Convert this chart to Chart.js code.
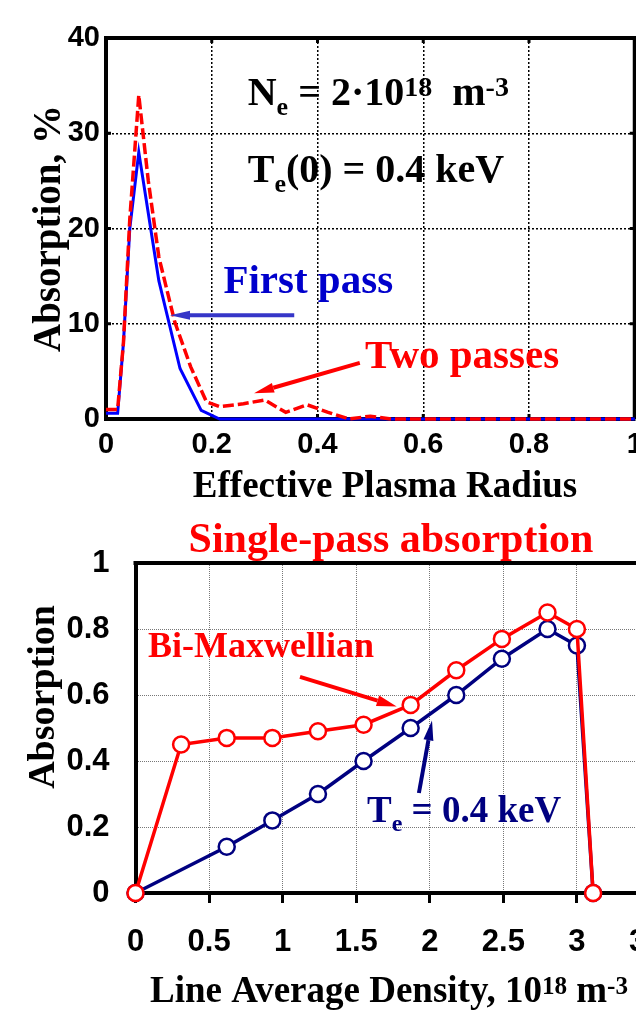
<!DOCTYPE html>
<html>
<head>
<meta charset="utf-8">
<script src="https://cdn.jsdelivr.net/npm/chart.js@4.4.1/dist/chart.umd.min.js"></script>
<style>
html, body { margin: 0; padding: 0; background: #fff; overflow: hidden; width: 636px; height: 1020px; }
canvas { position: absolute; left: 0; top: 0; }
</style>
</head>
<body>
<canvas id="radiusChart" width="660" height="510"></canvas>
<canvas id="densityChart" width="701" height="1020"></canvas>
<script>
// ---- top panel: absorption profile vs effective radius ----
const firstPassRadius = [0, 0.022, 0.033, 0.045, 0.062, 0.1, 0.14, 0.18, 0.215, 0.3, 0.4, 0.5, 0.6, 0.7, 0.8, 0.9, 1.0];
const firstPassAbs    = [0.6, 0.6, 8, 20, 28, 14.5, 5.3, 0.9, 0, 0, 0, 0, 0, 0, 0, 0, 0];

const twoPassRadius = [0, 0.022, 0.033, 0.045, 0.062, 0.08, 0.1, 0.13, 0.16, 0.19, 0.215, 0.26, 0.3, 0.34, 0.38, 0.42, 0.46, 0.5, 0.54, 0.6, 0.7, 0.8, 0.9, 1.0];
const twoPassAbs    = [1.0, 1.0, 8, 21, 34, 25, 17, 10.2, 5.5, 1.8, 1.3, 1.6, 2.0, 0.7, 1.5, 0.7, 0, 0.3, 0, 0, 0, 0, 0, 0];

const radiusTicks = [0, 0.2, 0.4, 0.6, 0.8, 1];
const percentTicks = [0, 10, 20, 30, 40];

// ---- bottom panel: single-pass absorption vs line average density ----
const biMaxDensity = [0, 0.31, 0.62, 0.93, 1.24, 1.55, 1.87, 2.18, 2.49, 2.8, 3.0, 3.11];
const biMaxAbs     = [0, 0.45, 0.47, 0.47, 0.49, 0.51, 0.57, 0.675, 0.77, 0.85, 0.80, 0];

const te04Density = [0, 0.62, 0.93, 1.24, 1.55, 1.87, 2.18, 2.49, 2.8, 3.0, 3.11];
const te04Abs     = [0, 0.14, 0.22, 0.30, 0.40, 0.50, 0.60, 0.71, 0.80, 0.75, 0];

const densityTicks = [0, 0.5, 1, 1.5, 2, 2.5, 3, 3.5];
const fractionTicks = [0, 0.2, 0.4, 0.6, 0.8, 1];

const SERIF = '"Liberation Serif", "Times New Roman", serif';
const SANS = 'Liberation Sans';

function pairs(xs, ys) {
	return xs.map((x, i) => ({ x: x, y: ys[i] }));
}

// text with sub/superscripts, parts = [[text, 'sub'|'sup'|undefined], ...]
function richText(ctx, parts, x, y, size, color, align, supScale) {
	const sup = supScale || 0.62;
	let total = 0;
	const fontOf = p => 'bold ' + (p[1] === 'sub' ? size * 0.65 : p[1] === 'sup' ? size * sup : size) + 'px ' + SERIF;
	parts.forEach(p => { ctx.font = fontOf(p); total += ctx.measureText(p[0]).width; });
	let cx = align === 'center' ? x - total / 2 : x;
	ctx.save();
	ctx.fillStyle = color;
	ctx.textAlign = 'left';
	ctx.textBaseline = 'alphabetic';
	parts.forEach(p => {
		ctx.font = fontOf(p);
		const dy = p[1] === 'sub' ? size * 0.25 : p[1] === 'sup' ? -size * 0.22 : 0;
		ctx.fillText(p[0], cx, y + dy);
		cx += ctx.measureText(p[0]).width;
	});
	ctx.restore();
}

function arrow(ctx, x1, y1, x2, y2, color, width, headLen, headHalf) {
	const ang = Math.atan2(y2 - y1, x2 - x1);
	const bx = x2 - headLen * Math.cos(ang);
	const by = y2 - headLen * Math.sin(ang);
	ctx.save();
	ctx.strokeStyle = color;
	ctx.fillStyle = color;
	ctx.lineWidth = width;
	ctx.beginPath();
	ctx.moveTo(x1, y1);
	ctx.lineTo(bx, by);
	ctx.stroke();
	ctx.beginPath();
	ctx.moveTo(x2, y2);
	ctx.lineTo(bx + headHalf * Math.sin(ang), by - headHalf * Math.cos(ang));
	ctx.lineTo(bx - headHalf * Math.sin(ang), by + headHalf * Math.cos(ang));
	ctx.closePath();
	ctx.fill();
	ctx.restore();
}

/* =========================================
TOP CHART
============================================*/
const radiusFrame = {
	id: 'radiusFrame',
	beforeDatasetsDraw(chart) {
		const { ctx, chartArea: a, scales: { x, y } } = chart;
		ctx.save();
		ctx.strokeStyle = '#000';
		ctx.lineWidth = 4;
		ctx.beginPath();
		ctx.moveTo(a.left - 2, a.top);
		ctx.lineTo(a.right, a.top);
		ctx.lineTo(a.right, a.bottom);
		ctx.stroke();
		// small inward tick marks
		ctx.lineWidth = 3;
		ctx.beginPath();
		x.ticks.forEach(t => {
			const px = x.getPixelForValue(t.value);
			ctx.moveTo(px, a.top); ctx.lineTo(px, a.top + 5);
			ctx.moveTo(px, a.bottom); ctx.lineTo(px, a.bottom - 5);
		});
		y.ticks.forEach(t => {
			const py = y.getPixelForValue(t.value);
			ctx.moveTo(a.left, py); ctx.lineTo(a.left + 5, py);
			ctx.moveTo(a.right, py); ctx.lineTo(a.right - 5, py);
		});
		ctx.stroke();
		ctx.restore();
	},
	afterDraw(chart) {
		const { ctx, scales: { x, y } } = chart;
		const X = v => x.getPixelForValue(v);
		const Y = v => y.getPixelForValue(v);
		richText(ctx, [['Effective Plasma Radius']], 385, 497, 37, '#000', 'center');
		richText(ctx, [['N'], ['e', 'sub'], [' = 2\u00b710'], ['18', 'sup'], [' \u2005m'], ['-3', 'sup']], X(0.268), Y(33.0), 40, '#000', 'left', 0.7);
		richText(ctx, [['T'], ['e', 'sub'], ['(0) = 0.4 keV']], X(0.268), Y(24.9), 40, '#000');
		richText(ctx, [['First pass']], X(0.222), Y(13.2), 41, '#0000cc');
		richText(ctx, [['Two passes']], X(0.49), Y(5.35), 41, '#ff0000');
		arrow(ctx, X(0.356), Y(10.9), X(0.121), Y(10.9), '#3636c8', 4, 20, 4.5);
		arrow(ctx, X(0.48), Y(5.9), X(0.28), Y(2.7), '#ff0000', 4, 20, 5);
	}
};

new Chart(document.getElementById('radiusChart'), {
	type: 'line',
	data: {
		datasets: [
			{ label: 'Two passes', data: pairs(twoPassRadius, twoPassAbs), borderColor: '#ff0000', borderWidth: 3.5, borderDash: [11, 4], pointRadius: 0, tension: 0, fill: false, order: 0, clip: false },
			{ label: 'First pass', data: pairs(firstPassRadius, firstPassAbs), borderColor: '#0000ff', borderWidth: 3, pointRadius: 0, tension: 0, fill: false, order: 1, clip: false }
		]
	},
	options: {
		responsive: false,
		animation: false,
		events: [],
		layout: { padding: { top: 38, right: 25.25, left: 0, bottom: 0 } },
		plugins: { legend: { display: false }, tooltip: { enabled: false } },
		scales: {
			x: {
				type: 'linear', min: 0, max: 1,
				afterBuildTicks: s => { s.ticks = radiusTicks.map(v => ({ value: v })); },
				afterFit: s => { s.height = 91; },
				grid: { color: '#000', lineWidth: 1.5, drawTicks: false },
				border: { color: '#000', width: 4, dash: [2, 2] },
				ticks: { color: '#000', padding: 9, maxRotation: 0, autoSkip: false, font: { family: SANS, weight: 'bold', size: 29 }, callback: v => String(v) }
			},
			y: {
				min: 0, max: 40,
				afterBuildTicks: s => { s.ticks = percentTicks.map(v => ({ value: v })); },
				afterFit: s => { s.width = 106; },
				grid: { color: '#000', lineWidth: 1.5, drawTicks: false },
				border: { color: '#000', width: 4, dash: [2, 2] },
				ticks: { color: '#000', padding: 6, font: { family: SANS, weight: 'bold', size: 29 }, callback: v => String(v) },
				title: { display: true, text: 'Absorption, %', color: '#000', font: { family: 'Liberation Serif', weight: 'bold', size: 39 }, padding: { top: 27, bottom: 0 } }
			}
		}
	},
	plugins: [radiusFrame]
});

/* =========================================
BOTTOM CHART
============================================*/
const densityDecor = {
	id: 'densityDecor',
	beforeDatasetsDraw(chart) {
		const { ctx, chartArea: a } = chart;
		ctx.save();
		ctx.strokeStyle = '#000';
		ctx.lineWidth = 4;
		ctx.beginPath();
		ctx.moveTo(a.left - 2, a.top);
		ctx.lineTo(a.right, a.top);
		ctx.lineTo(a.right, a.bottom);
		ctx.stroke();
		ctx.restore();
	},
	afterDraw(chart) {
		const { ctx, scales: { x, y } } = chart;
		const X = v => x.getPixelForValue(v);
		const Y = v => y.getPixelForValue(v);
		richText(ctx, [['Single-pass absorption']], 391, 552, 42, '#ff0000', 'center');
		richText(ctx, [['Line Average Density, 10'], ['18', 'sup'], [' m'], ['-3', 'sup']], 150, 1002, 37, '#000', 'left', 0.68);
		ctx.save();
		ctx.translate(41, 697);
		ctx.rotate(-Math.PI / 2);
		richText(ctx, [['Absorption']], 0, 13, 38, '#000', 'center');
		ctx.restore();
		richText(ctx, [['Bi-Maxwellian']], X(0.085), Y(0.715), 36, '#ff0000');
		richText(ctx, [['T'], ['e', 'sub'], [' = 0.4 keV']], X(1.573), Y(0.215), 37, '#000080');
		arrow(ctx, X(1.118), Y(0.655), X(1.775), Y(0.565), '#ff0000', 4, 20, 5.5);
		arrow(ctx, X(1.926), Y(0.303), X(2.015), Y(0.523), '#000080', 4, 20, 5);
	}
};

new Chart(document.getElementById('densityChart'), {
	type: 'line',
	data: {
		datasets: [
			{ label: 'Bi-Maxwellian', data: pairs(biMaxDensity, biMaxAbs), borderColor: '#ff0000', borderWidth: 3.5, pointRadius: 8, pointBorderWidth: 2.5, pointBorderColor: '#ff0000', pointBackgroundColor: '#fff', tension: 0, fill: false, order: 0, clip: false },
			{ label: 'Te = 0.4 keV', data: pairs(te04Density, te04Abs), borderColor: '#000080', borderWidth: 3.5, pointRadius: 8, pointBorderWidth: 2.5, pointBorderColor: '#000080', pointBackgroundColor: '#fff', tension: 0, fill: false, order: 1, clip: false }
		]
	},
	options: {
		responsive: false,
		animation: false,
		events: [],
		layout: { padding: { top: 563, right: 50.5, left: 0, bottom: 0 } },
		plugins: { legend: { display: false }, tooltip: { enabled: false } },
		scales: {
			x: {
				type: 'linear', min: 0, max: 3.5,
				afterBuildTicks: s => { s.ticks = densityTicks.map(v => ({ value: v })); },
				afterFit: s => { s.height = 127; },
				grid: { color: '#777', lineWidth: 1, drawTicks: true, tickLength: 10, tickWidth: 3, tickColor: '#000' },
				border: { color: '#000', width: 4, dash: [1, 1] },
				ticks: { color: '#000', padding: 21, maxRotation: 0, autoSkip: false, font: { family: SANS, weight: 'bold', size: 31 }, callback: v => String(v) }
			},
			y: {
				min: 0, max: 1,
				afterBuildTicks: s => { s.ticks = fractionTicks.map(v => ({ value: v })); },
				afterFit: s => { s.width = 135.5; },
				grid: { color: '#777', lineWidth: 1, drawTicks: false },
				border: { color: '#000', width: 4, dash: [1, 1] },
				ticks: { color: '#000', padding: 26, font: { family: SANS, weight: 'bold', size: 31 }, callback: v => String(v) }
			}
		}
	},
	plugins: [densityDecor]
});
</script>
</body>
</html>
